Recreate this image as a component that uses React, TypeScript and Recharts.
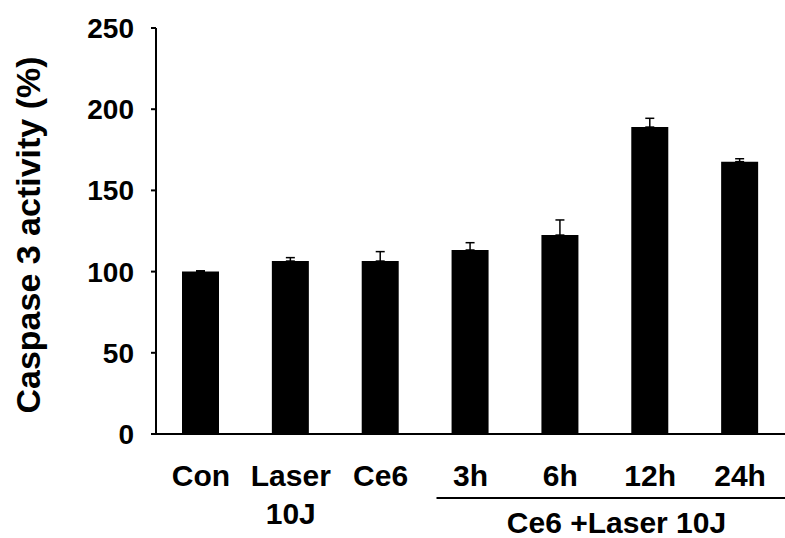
import React from 'react';
import { BarChart, Bar, XAxis, YAxis, ErrorBar } from 'recharts';

const categories = ['Con', 'Laser\n10J', 'Ce6', '3h', '6h', '12h', '24h'];
const activity = [100, 106.5, 106.5, 113.3, 122.5, 189.0, 167.7];
const errorUp = [0.5, 2.1, 5.8, 4.5, 9.3, 5.4, 1.8];
const yTicks = [0, 50, 100, 150, 200, 250];
const groupLabel = 'Ce6 +Laser 10J';
const groupStartIndex = 3;
const yLabel = 'Caspase 3 activity (%)';

const data = categories.map((c, i) => ({ name: c, value: activity[i], err: [0, errorUp[i]] }));

const FONT = '"Liberation Sans", Arial, Helvetica, sans-serif';

const XTick = (props: any) => {
  const { x, y, payload, index } = props;
  const lines = String(payload.value).split('\n');
  return (
    <g>
      <text x={x} y={y} textAnchor="middle" fontFamily={FONT} fontSize={30} fontWeight="bold" fill="#000">
        {lines.map((l, i) => (
          <tspan key={i} x={x} dy={i === 0 ? 52 : 38}>{l}</tspan>
        ))}
      </text>
      {index === groupStartIndex && (
        <g>
          <line x1={x - 34} x2={x + 320} y1={y + 64} y2={y + 64} stroke="#000" strokeWidth={2} />
          <text x={x + 146} y={y + 99} textAnchor="middle" fontFamily={FONT} fontSize={30} fontWeight="bold" fill="#000">
            {groupLabel}
          </text>
        </g>
      )}
    </g>
  );
};

const YLabel = (props: any) => {
  const vb = props.viewBox || {};
  const cy = (vb.y ?? 28) + (vb.height ?? 406) / 2 + 4;
  return (
    <text
      transform={`translate(40, ${cy}) rotate(-90)`}
      textAnchor="middle"
      fontFamily={FONT}
      fontSize={34}
      fontWeight="bold"
      fill="#000"
    >
      {yLabel}
    </text>
  );
};

export default function App() {
  return (
    <div style={{ position: 'absolute', left: 0, top: 0, width: 785, height: 538, background: '#fff' }}>
      <BarChart
        width={785}
        height={538}
        data={data}
        margin={{ top: 28, right: 0, left: 0, bottom: 0 }}
        barCategoryGap={0}
      >
        <XAxis
          dataKey="name"
          height={104}
          interval={0}
          tickLine={false}
          tickSize={0}
          tickMargin={0}
          axisLine={{ stroke: '#000', strokeWidth: 2 }}
          tick={<XTick />}
        />
        <YAxis
          width={156}
          domain={[0, 250]}
          ticks={yTicks}
          interval={0}
          tickSize={5}
          tickMargin={17}
          axisLine={{ stroke: '#000', strokeWidth: 2 }}
          tickLine={{ stroke: '#000', strokeWidth: 2 }}
          tick={{ fontFamily: FONT, fontSize: 28, fontWeight: 'bold', fill: '#000' }}
          label={{ content: <YLabel /> }}
        />
        <Bar dataKey="value" fill="#000" barSize={37} isAnimationActive={false}>
          <ErrorBar dataKey="err" direction="y" width={4.5} strokeWidth={1.5} stroke="#000" />
        </Bar>
      </BarChart>
    </div>
  );
}
